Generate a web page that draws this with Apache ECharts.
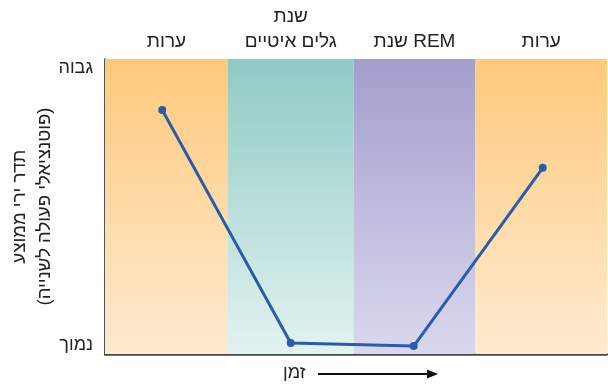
<!DOCTYPE html>
<html><head><meta charset="utf-8">
<script src="https://cdn.jsdelivr.net/npm/echarts@6/dist/echarts.min.js"></script>
<style>html,body{margin:0;padding:0;background:#fff}#c{width:608px;height:385px}</style>
</head><body><div id="c"></div>
<script>
// Data (time units 0..100 along x, activity 0..100 along y)
const stageNames = ['ערות', 'שנת\nגלים איטיים', 'שנת REM', 'ערות'];
const stageStart = [0, 24.5, 49.5, 73.8];
const stageEnd = [24.5, 49.5, 73.8, 100];
const pointTime = [11.4, 37.0, 61.5, 87.2];
const pointRate = [82.7, 3.7, 2.7, 63.1];
const yTickLabels = ['נמוך', 'גבוה'];
const yAxisTitle = 'תדר ירי ממוצע\n(פוטנציאלי פעולה לשנייה)';
const xAxisTitle = 'זמן';

const FONT = 'Liberation Sans';
const bandColors = [
  ['#FFC97C', '#FFEBD1'],
  ['#8FCAC4', '#E2F3F2'],
  ['#A49ECD', '#DAD8EE'],
  ['#FFC97C', '#FFEBD1']
];
function grad(c) {
  return new echarts.graphic.LinearGradient(0, 0, 0, 1, [{offset: 0, color: c[0]}, {offset: 1, color: c[1]}]);
}
const areas = stageNames.map((n, i) => [
  {xAxis: stageStart[i], name: n, itemStyle: {color: grad(bandColors[i])}},
  {xAxis: stageEnd[i]}
]);

const chart = echarts.init(document.getElementById('c'));
chart.setOption({
  animation: false,
  textStyle: {fontFamily: FONT},
  grid: {left: 105, right: 1, top: 59, bottom: 31, outerBoundsMode: 'none', containLabel: false},
  xAxis: {
    type: 'value', min: 0, max: 100,
    axisLine: {show: true, lineStyle: {color: '#484848', width: 2.5}},
    axisTick: {show: false}, axisLabel: {show: false}, splitLine: {show: false}
  },
  yAxis: {
    type: 'value', min: 0, max: 100, interval: 100,
    name: yAxisTitle, nameLocation: 'middle', nameGap: 48, nameRotate: 90, nameMoveOverlap: false,
    nameTextStyle: {fontSize: 18.5, color: '#222', lineHeight: 25, fontFamily: FONT},
    axisLine: {show: true, lineStyle: {color: '#1a1a1a', width: 1.5}},
    axisTick: {show: false}, splitLine: {show: false},
    axisLabel: {
      fontSize: 18, color: '#222', margin: 12, fontFamily: FONT,
      verticalAlignMinLabel: 'bottom', verticalAlignMaxLabel: 'top',
      formatter: v => v === 0 ? yTickLabels[0] : yTickLabels[1]
    }
  },
  series: [{
    type: 'line',
    data: pointTime.map((t, i) => [t, pointRate[i]]),
    symbol: 'circle', symbolSize: 8,
    lineStyle: {color: '#2C5BA9', width: 3},
    itemStyle: {color: '#2C5BA9'},
    z: 5,
    markArea: {
      silent: true,
      label: {show: true, position: 'top', distance: 5, fontSize: 19, color: '#222', lineHeight: 25, fontFamily: FONT},
      data: areas
    }
  }],
  graphic: [
    {type: 'text', left: 283, top: 364, style: {text: xAxisTitle, fontSize: 18, fill: '#222', fontFamily: FONT}},
    {type: 'line', shape: {x1: 318, y1: 374, x2: 430, y2: 374}, style: {stroke: '#111', lineWidth: 2}},
    {type: 'polygon', shape: {points: [[438, 374], [427, 369.5], [427, 378.5]]}, style: {fill: '#111'}}
  ]
});
</script></body></html>
